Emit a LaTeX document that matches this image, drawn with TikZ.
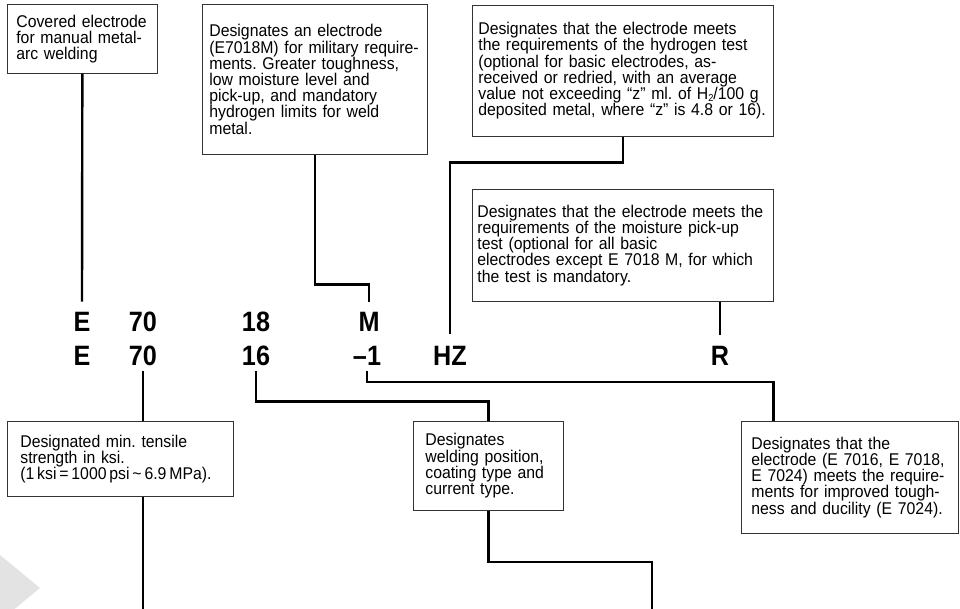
\documentclass[tikz,border=0pt]{standalone}
\usepackage{fontspec}
\setmainfont{Liberation Sans}
\newfontfamily\notefont{Liberation Sans}[FakeStretch=0.93]
\newfontfamily\codefont{Liberation Sans}[FakeStretch=0.9]
\usetikzlibrary{calc}
\newcommand\notesetup{\notefont\fontsize{17}{16.2}\selectfont\frenchspacing\hyphenpenalty10000\relax}
\newcommand\hsub{\raisebox{-2pt}{\fontsize{10}{10}\selectfont 2}}

\begin{document}
\begin{tikzpicture}[x=1pt,y=1pt,
  note/.style={draw=black!80, line width=0.7pt, anchor=north west, align=left,
    inner ysep=0pt, font=\notesetup},
  code/.style={anchor=base, inner sep=0pt,
    font=\codefont\bfseries\fontsize{28}{28}\selectfont},
  link/.style={line width=2.4pt}]

% Frame and grey arrow mark
\useasboundingbox (0,0) rectangle (960,-609);
\fill[gray!22] (0,-555) -- (40,-588) -- (0,-621) -- cycle;

% Upper notes
\node[note, text width=132pt, inner xsep=9pt, minimum height=69pt] (covered) at (7,-4)
  {Covered electrode\\for manual metal-\\arc welding};
\node[note, text width=211pt, inner xsep=7pt, minimum height=150pt] (military) at (202,-4)
  {Designates an electrode\\(E7018M) for military require-\\ments. Greater toughness,\\low moisture level and\\pick-up, and mandatory\\hydrogen limits for weld\\metal.};
\node[note, text width=289pt, inner xsep=6pt, minimum height=131pt] (hydrogen) at (472,-5)
  {Designates that the electrode meets\\the requirements of the hydrogen test\\(optional for basic electrodes, as-\\received or redried, with an average\\value not exceeding “z” ml. of H\hsub/100 g\\deposited metal, where “z” is 4.8 or 16).};
\node[note, text width=291pt, inner xsep=5pt, minimum height=112pt] (moisture) at (472,-189)
  {Designates that the electrode meets the\\requirements of the moisture pick-up\\test (optional for all basic\\electrodes except E 7018 M, for which\\the test is mandatory.};

% Designation codes
\node[code] (e1) at (82,-331) {E};
\node[code] (n70a) at (143,-331) {70};
\node[code] (n18) at (256,-331) {18};
\node[code] (m1) at (369,-331) {M};
\node[code] (e2) at (82,-365) {E};
\node[code] (n70b) at (143,-365) {70};
\node[code] (n16) at (256,-365) {16};
\node[code] (dash1) at (367,-365) {\textendash1};
\node[code] (hz) at (450,-365) {HZ};
\node[code] (r) at (720,-365) {R};

% Lower notes
\node[note, text width=200pt, inner xsep=13pt, minimum height=75pt] (tensile) at (7,-421)
  {Designated min. tensile\\strength in ksi.\\(1\,ksi\,=\,1000\,psi\,\textasciitilde\,6.9\,MPa).};
\node[note, text width=126pt, inner xsep=12pt, minimum height=89pt] (position) at (413,-421)
  {Designates\\welding position,\\coating type and\\current type.};
\node[note, text width=197pt, inner xsep=10pt, minimum height=112pt] (toughness) at (741,-421)
  {Designates that the\\electrode (E 7016, E 7018,\\E 7024) meets the require-\\ments for improved tough-\\ness and ducility (E 7024).};

\coordinate (endT) at (143,-609);
\coordinate (endP) at (652,-609);

% Connectors
\draw[link] (covered.south) -- ([yshift=10pt]e1.north);
\draw[link] (military.south) -- ++(0,-130) -| ([yshift=10pt]m1.north);
\draw[link] (hydrogen.south) -- ++(0,-26) -| ([yshift=12pt]hz.north);
\draw[link] (moisture.south -| r.north) -- ([yshift=11pt]r.north);
\draw[link] ([yshift=-6pt]n70b.south) -- (n70b.south |- tensile.north);
\draw[link] (n70b.south |- tensile.south) -- (endT);
\draw[link] ([yshift=-6pt]n16.south) -- ++(0,-30) -| (position.north);
\draw[link] (position.south) -- ++(0,-51) -| (endP);
\draw[link] ([yshift=-6pt]dash1.south) -- ++(0,-11)
  -| ($(toughness.north west)!0.15!(toughness.north east)$);

\end{tikzpicture}
\end{document}
